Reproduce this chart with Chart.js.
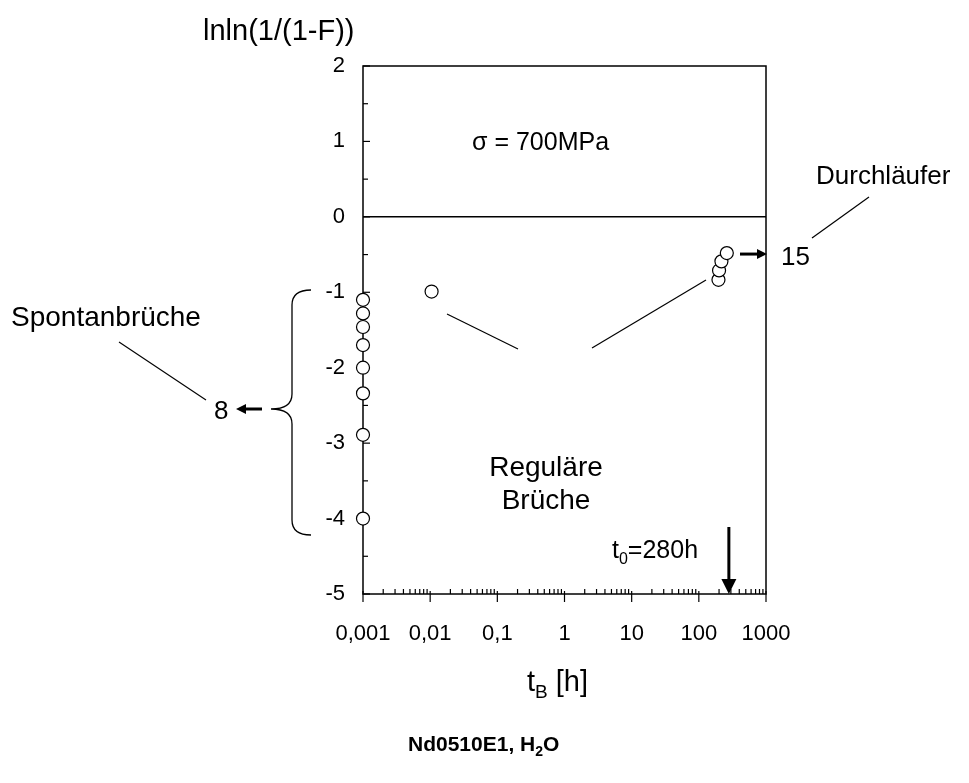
<!DOCTYPE html>
<html><head><meta charset="utf-8">
<script src="https://cdn.jsdelivr.net/npm/chart.js@4"></script>
<style>html,body{margin:0;padding:0;background:#fff;overflow:hidden}</style>
</head><body>
<canvas id="c" width="969" height="783" style="width:969px;height:783px;display:block"></canvas>
<script>
// ---- data ----
const xTickValues = [0.001, 0.01, 0.1, 1, 10, 100, 1000];
const xTickLabels = ['0,001', '0,01', '0,1', '1', '10', '100', '1000'];
const yTickValues = [-5, -4, -3, -2, -1, 0, 1, 2];
const yTickLabels = ['-5', '-4', '-3', '-2', '-1', '0', '1', '2'];
const spontanT = [0.001, 0.001, 0.001, 0.001, 0.001, 0.001, 0.001, 0.001];
const spontanY = [-1.10, -1.28, -1.46, -1.70, -2.00, -2.34, -2.89, -4.00];
const regularT = [0.0105, 196, 200, 217, 261];
const regularY = [-0.99, -0.835, -0.71, -0.59, -0.48];
const t0Hours = 280;

const FONT = '"Liberation Sans", Arial, sans-serif';

function arrow(ctx, x1, y1, x2, y2, head, halfW) {
  const ang = Math.atan2(y2 - y1, x2 - x1);
  const bx = x2 - head * Math.cos(ang), by = y2 - head * Math.sin(ang);
  ctx.beginPath(); ctx.moveTo(x1, y1); ctx.lineTo(bx, by); ctx.stroke();
  ctx.beginPath();
  ctx.moveTo(x2, y2);
  ctx.lineTo(bx + halfW * Math.sin(ang), by - halfW * Math.cos(ang));
  ctx.lineTo(bx - halfW * Math.sin(ang), by + halfW * Math.cos(ang));
  ctx.closePath(); ctx.fill();
}
function line(ctx, x1, y1, x2, y2) { ctx.beginPath(); ctx.moveTo(x1, y1); ctx.lineTo(x2, y2); ctx.stroke(); }
function subText(ctx, x, y, parts, size, bold) {
  let cx = x;
  for (const [t, sub] of parts) {
    ctx.font = (bold ? 'bold ' : '') + (sub ? Math.round(size * 0.65) : size) + 'px ' + FONT;
    ctx.fillText(t, cx, sub ? y + size * 0.25 : y);
    cx += ctx.measureText(t).width;
  }
}

const framePlugin = {
  id: 'frame',
  beforeDatasetsDraw(chart) {
    const ctx = chart.ctx, a = chart.chartArea;
    const xs = chart.scales.x, ys = chart.scales.y;
    ctx.save();
    ctx.strokeStyle = '#000'; ctx.lineWidth = 1.5;
    ctx.strokeRect(a.left, a.top, a.right - a.left, a.bottom - a.top);
    const y0 = ys.getPixelForValue(0);
    line(ctx, a.left, y0, a.right, y0);
    ctx.lineWidth = 1.2;
    for (let i = 0; i < yTickValues.length; i++) {
      const v = yTickValues[i];
      const p = ys.getPixelForValue(v);
      line(ctx, a.left, p, a.left + 7, p);
      if (i < yTickValues.length - 1) {
        const m = ys.getPixelForValue(v + 0.5);
        line(ctx, a.left, m, a.left + 5, m);
      }
    }
    for (let i = 0; i < xTickValues.length; i++) {
      const d = xTickValues[i];
      const p = xs.getPixelForValue(d);
      line(ctx, p, a.bottom - 3, p, a.bottom + 8);
      if (i < xTickValues.length - 1) {
        for (let k = 2; k <= 9; k++) {
          const m = xs.getPixelForValue(d * k);
          line(ctx, m, a.bottom, m, a.bottom - 5);
        }
      }
    }
    ctx.fillStyle = '#000';
    ctx.font = '22px ' + FONT;
    ctx.textAlign = 'right'; ctx.textBaseline = 'middle';
    for (let i = 0; i < yTickValues.length; i++) {
      ctx.fillText(yTickLabels[i], a.left - 18, ys.getPixelForValue(yTickValues[i]));
    }
    ctx.textAlign = 'center'; ctx.textBaseline = 'alphabetic';
    for (let i = 0; i < xTickValues.length; i++) {
      ctx.fillText(xTickLabels[i], xs.getPixelForValue(xTickValues[i]), a.bottom + 46);
    }
    ctx.restore();
  },
  afterDatasetsDraw(chart) {
    const ctx = chart.ctx, a = chart.chartArea;
    const xs = chart.scales.x, ys = chart.scales.y;
    ctx.save();
    ctx.fillStyle = '#000'; ctx.strokeStyle = '#000';
    ctx.textAlign = 'left'; ctx.textBaseline = 'alphabetic';
    // axis titles
    ctx.font = '29px ' + FONT;
    ctx.fillText('lnln(1/(1-F))', 203, 40);
    subText(ctx, 527, 691, [['t', false], ['B', true], [' [h]', false]], 29, false);
    subText(ctx, 408, 751, [['Nd0510E1, H', false], ['2', true], ['O', false]], 21, true);
    // annotations
    ctx.font = '25px ' + FONT;
    ctx.fillText('\u03c3 = 700MPa', 472, 150);
    ctx.font = '26px ' + FONT;
    ctx.fillText('Durchl\u00e4ufer', 816, 184);
    ctx.fillText('15', 781, 265);
    ctx.fillText('8', 214, 419);
    ctx.font = '28px ' + FONT;
    ctx.fillText('Spontanbr\u00fcche', 11, 326);
    ctx.textAlign = 'center';
    ctx.fillText('Regul\u00e4re', 546, 476);
    ctx.fillText('Br\u00fcche', 546, 509);
    ctx.textAlign = 'left';
    subText(ctx, 612, 558, [['t', false], ['0', true], ['=280h', false]], 25, false);

    ctx.lineWidth = 1.2;
    line(ctx, 812, 238, 869, 197);
    line(ctx, 119, 342, 206, 400);
    line(ctx, 447, 314, 518, 349);
    line(ctx, 592, 348, 706, 280);

    ctx.lineWidth = 3;
    const yr = ys.getPixelForValue(regularY[regularY.length - 1]);
    arrow(ctx, 740, yr + 1, a.right + 1, yr + 1, 10, 5);
    arrow(ctx, 262, 409, 236, 409, 10, 5);
    const xt = xs.getPixelForValue(t0Hours);
    arrow(ctx, xt, 527, xt, a.bottom, 15, 7.5);

    // brace
    ctx.lineWidth = 1.3;
    const top = 290, mid = 409, bot = 535, sx = 292, tx = 311, px = 271, r = 15;
    ctx.beginPath();
    ctx.moveTo(tx, top);
    ctx.quadraticCurveTo(sx, top, sx, top + r);
    ctx.lineTo(sx, mid - r);
    ctx.quadraticCurveTo(sx, mid, px, mid);
    ctx.quadraticCurveTo(sx, mid, sx, mid + r);
    ctx.lineTo(sx, bot - r);
    ctx.quadraticCurveTo(sx, bot, tx, bot);
    ctx.stroke();
    ctx.restore();
  }
};

new Chart(document.getElementById('c'), {
  type: 'scatter',
  data: {
    datasets: [
      { label: 'Spontanbrüche', data: spontanT.map((t, i) => ({ x: t, y: spontanY[i] })) },
      { label: 'Reguläre Brüche', data: regularT.map((t, i) => ({ x: t, y: regularY[i] })) }
    ]
  },
  options: {
    responsive: false, animation: false, devicePixelRatio: 1,
    layout: { padding: { top: 66, right: 203, left: 0, bottom: 0 } },
    elements: { point: { radius: 6.5, backgroundColor: '#fff', borderColor: '#000', borderWidth: 1.2 } },
    datasets: { scatter: { clip: false } },
    plugins: { legend: { display: false }, tooltip: { enabled: false } },
    scales: {
      x: { type: 'logarithmic', min: 0.001, max: 1000, grid: { display: false }, border: { display: false },
           ticks: { display: false }, afterFit: s => { s.height = 189; } },
      y: { type: 'linear', min: -5, max: 2, grid: { display: false }, border: { display: false },
           ticks: { display: false }, afterFit: s => { s.width = 363; } }
    }
  },
  plugins: [framePlugin]
});
</script>
</body></html>
